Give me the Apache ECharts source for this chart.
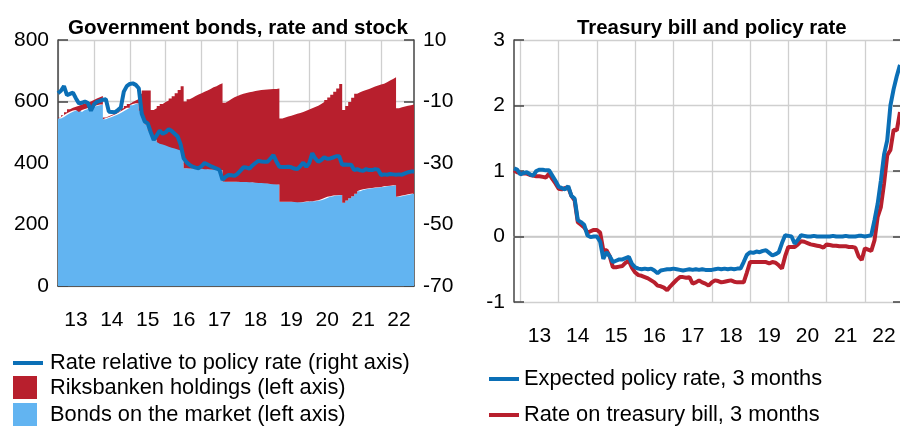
<!DOCTYPE html>
<html>
<head>
<meta charset="utf-8"/>
<style>
    html, body { margin:0; padding:0; background:#fff; }
    #chart { width:900px; height:426px; }
</style>
</head>
<body>
<div id="chart"></div>

<script src="https://cdn.jsdelivr.net/npm/echarts@6.0.0/dist/echarts.min.js"></script>
<script type="text/javascript">

// month categories: left chart Jan 2013 - Dec 2022, right chart Nov 2012 - Dec 2022
var bondMonths = [];
for (var y = 2013; y <= 2022; y++) {
    for (var m = 1; m <= 12; m++) bondMonths.push(y + '-' + (m < 10 ? '0' + m : m));
}
var billMonths = ['2012-11', '2012-12'].concat(bondMonths);

// Government bonds on the market, SEK billion (left axis)
var marketBonds = [
    545, 550, 556, 562, 567, 571, 572, 566, 572, 576, 579, 582,
    585, 588, 590, 542, 546, 550, 554, 558, 563, 568, 574, 580,
    588, 592, 594, 570, 550, 525, 505, 487, 476, 468, 463, 460,
    457, 453, 450, 447, 444, 441, 383, 383, 382, 382, 381, 381,
    381, 380, 380, 379, 378, 377, 377, 340, 339, 339, 339, 339,
    339, 338, 338, 338, 337, 337, 336, 335, 335, 334, 333, 332,
    331, 330, 274, 274, 274, 274, 274, 273, 272, 272, 273, 275,
    276, 276, 277, 279, 282, 286, 290, 292, 294, 295, 296, 271,
    278, 285, 292, 300, 308, 312, 315, 316, 318, 319, 320, 321,
    322, 324, 325, 326, 328, 290, 292, 294, 296, 298, 300, 301
];

// Riksbanken holdings, SEK billion (left axis)
var riksbankHoldings = [
    3, 5, 9, 13, 13, 12, 14, 24, 22, 21, 21, 23,
    25, 26, 28, 6, 6, 6, 6, 7, 7, 10, 11, 12,
    10, 11, 14, 55, 86, 111, 131, 85, 102, 117, 129, 138,
    146, 157, 167, 180, 193, 209, 217, 224, 230, 236, 242, 246,
    251, 256, 261, 267, 272, 278, 282, 256, 263, 269, 275, 279,
    283, 287, 290, 292, 295, 297, 300, 302, 303, 305, 307, 309,
    310, 312, 271, 274, 277, 280, 283, 287, 291, 294, 297, 299,
    302, 306, 309, 313, 316, 319, 323, 330, 338, 347, 361, 301,
    307, 313, 320, 325, 322, 322, 322, 325, 327, 330, 332, 334,
    336, 339, 343, 347, 351, 288, 289, 290, 290, 290, 290, 291
];

// rate relative to policy rate, basis points (right axis)
var rateVsPolicy = [
    -7.3, -6.5, -5.0, -7.9, -7.5, -7.1, -9.0, -10.6, -10.4, -10.0, -10.5, -13.0,
    -11.0, -10.1, -9.8, -9.4, -9.3, -13.3, -13.4, -13.5, -12.8, -12.0, -6.8, -5.0,
    -4.3, -4.1, -4.6, -5.7, -14.0, -16.5, -17.1, -20.0, -22.5, -21.0, -19.5, -20.5,
    -20.0, -19.0, -19.6, -20.5, -21.4, -24.0, -28.5, -29.8, -30.6, -31.2, -31.5, -31.7,
    -31.0, -30.0, -30.5, -31.0, -31.4, -31.8, -32.3, -35.5, -34.5, -33.9, -34.0, -34.2,
    -33.5, -32.5, -31.4, -31.5, -31.8, -30.8, -30.0, -29.3, -29.5, -29.6, -29.6, -28.6,
    -27.4, -29.5, -31.2, -31.3, -31.3, -31.2, -31.4, -31.8, -32.0, -31.0, -29.9, -31.2,
    -30.0, -26.8, -28.5, -29.6, -29.0, -28.1, -28.6, -28.5, -28.2, -27.8, -27.8, -30.6,
    -30.5, -30.6, -30.6, -32.3, -32.0, -32.4, -32.5, -32.0, -32.3, -32.3, -32.0, -32.2,
    -33.9, -33.7, -33.8, -33.6, -33.7, -33.8, -33.7, -33.8, -33.4, -33.0, -32.8, -32.8
];

// Expected policy rate, 3 months, per cent
var expectedPolicy = [
    1.04, 1.02,
    0.95, 0.97, 0.98, 0.95, 0.93, 1.00, 1.02, 1.02, 1.01, 1.01, 0.93, 0.85,
    0.76, 0.74, 0.72, 0.77, 0.62, 0.58, 0.25, 0.22, 0.18, 0.02, -0.01, 0.00,
    0.00, -0.08, -0.34, -0.24, -0.30, -0.39, -0.37, -0.35, -0.35, -0.33, -0.31, -0.42,
    -0.47, -0.49, -0.50, -0.49, -0.50, -0.49, -0.52, -0.56, -0.52, -0.51, -0.50, -0.50,
    -0.49, -0.50, -0.51, -0.52, -0.51, -0.50, -0.51, -0.50, -0.51, -0.50, -0.51, -0.51,
    -0.51, -0.50, -0.49, -0.50, -0.49, -0.50, -0.49, -0.50, -0.49, -0.49, -0.39, -0.28,
    -0.24, -0.25, -0.23, -0.24, -0.22, -0.21, -0.25, -0.29, -0.27, -0.24, -0.10, 0.02,
    0.01, 0.00, -0.11, -0.05, 0.02, 0.01, 0.00, 0.00, 0.01, 0.00, 0.00, 0.00,
    0.00, 0.00, 0.01, 0.00, 0.00, 0.00, 0.01, 0.00, 0.00, 0.00, 0.01, 0.01,
    0.00, 0.01, 0.02, 0.25, 0.50, 0.85, 1.25, 1.47, 2.00, 2.25, 2.45, 2.62
];

// Rate on treasury bill, 3 months, per cent
var treasuryBill = [
    1.01, 0.98,
    0.97, 0.96, 0.96, 0.94, 0.93, 0.92, 0.92, 0.91, 0.90, 0.96, 0.88, 0.81,
    0.73, 0.72, 0.74, 0.75, 0.62, 0.55, 0.22, 0.18, 0.14, 0.06, 0.08, 0.10,
    0.10, 0.06, -0.21, -0.21, -0.30, -0.47, -0.47, -0.46, -0.45, -0.40, -0.37, -0.48,
    -0.55, -0.59, -0.60, -0.62, -0.64, -0.67, -0.70, -0.75, -0.76, -0.78, -0.82, -0.76,
    -0.71, -0.66, -0.62, -0.62, -0.63, -0.62, -0.72, -0.70, -0.67, -0.70, -0.72, -0.75,
    -0.70, -0.67, -0.68, -0.70, -0.69, -0.68, -0.67, -0.69, -0.70, -0.70, -0.70, -0.55,
    -0.39, -0.39, -0.39, -0.39, -0.39, -0.39, -0.41, -0.39, -0.40, -0.44, -0.49, -0.30,
    -0.16, -0.16, -0.16, -0.12, -0.07, -0.08, -0.10, -0.12, -0.13, -0.14, -0.15, -0.17,
    -0.12, -0.13, -0.14, -0.14, -0.15, -0.15, -0.15, -0.16, -0.16, -0.17, -0.30, -0.36,
    -0.18, -0.20, -0.22, -0.06, 0.30, 0.45, 0.81, 1.24, 1.32, 1.63, 1.62, 1.90
];

var font = "'Liberation Sans', Arial, sans-serif";
var blue = '#0b6fb6';
var red = '#b81f2d';
var lightBlue = '#62b4f1';
var gridGray = '#cfcfcf';

function isJan(i, v) { return String(v).slice(5) === '01'; }
function isJul(i, v) { return String(v).slice(5) === '07'; }

function monthAxis(gridIndex, months, lineColor) {
    return {
        type: 'category', gridIndex: gridIndex, data: months, boundaryGap: false,
        axisLine: { show: true, lineStyle: { color: lineColor, width: 1.5 } },
        axisTick: { show: false },
        axisLabel: {
            interval: isJul, margin: 24, fontSize: 21, color: '#000', fontFamily: font,
            formatter: function (v) { return v.slice(2, 4); }
        },
        splitLine: { show: true, interval: isJan, lineStyle: { color: gridGray, width: 1.3 } }
    };
}

function valueAxis(gridIndex, min, max, step, pos, labels, tickLen, showLine) {
    return {
        type: 'value', gridIndex: gridIndex, min: min, max: max, interval: step, position: pos,
        axisLine: { show: showLine, lineStyle: { color: '#444', width: 1.5 } },
        axisTick: { show: true, inside: true, length: tickLen, lineStyle: { color: '#444', width: 1.5 } },
        axisLabel: { show: labels, margin: 9, fontSize: 21, color: '#000', fontFamily: font },
        splitLine: { show: pos === 'left', lineStyle: { color: gridGray, width: 1.3 } }
    };
}

function legendItem(name, left, top, w, h, gap) {
    return {
        data: [{ name: name, icon: 'rect' }], left: left, top: top, orient: 'vertical',
        itemWidth: w, itemHeight: h, selectedMode: false, padding: 0,
        textStyle: { fontSize: 21.8, color: '#000', fontFamily: font, padding: [0, 0, 0, gap] }
    };
}

var chart = echarts.init(document.getElementById('chart'));

var option = {
    animation: false,
    backgroundColor: '#fff',
    title: [
        { text: 'Government bonds, rate and stock', left: 63, top: 13,
          textStyle: { fontSize: 20.6, fontWeight: 'bold', color: '#000', fontFamily: font } },
        { text: 'Treasury bill and policy rate', left: 572, top: 13,
          textStyle: { fontSize: 20.4, fontWeight: 'bold', color: '#000', fontFamily: font } }
    ],
    legend: [
        legendItem('Rate relative to policy rate (right axis)', 13, 352, 30, 4, 2),
        legendItem('Riksbanken holdings (left axis)', 13, 376, 24, 23, 8),
        legendItem('Bonds on the market (left axis)', 13, 403, 24, 23, 8),
        legendItem('Expected policy rate, 3 months', 489, 368, 30, 4, 0),
        legendItem('Rate on treasury bill, 3 months', 489, 404, 30, 4, 0)
    ],
    grid: [
        { left: 58, top: 40, width: 356, height: 246 },
        { left: 514, top: 40, width: 386, height: 262 }
    ],
    xAxis: [
        monthAxis(0, bondMonths, '#333'),
        monthAxis(1, billMonths, '#c8c8c8')
    ],
    yAxis: [
        valueAxis(0, 0, 800, 200, 'left', true, 10, true),
        valueAxis(0, -70, 10, 20, 'right', true, 10, true),
        valueAxis(1, -1, 3, 1, 'left', true, 10, true),
        valueAxis(1, -1, 3, 1, 'right', false, 7, false)
    ],
    series: [
        {
            name: 'Bonds on the market (left axis)', type: 'line', xAxisIndex: 0, yAxisIndex: 0,
            stack: 'bonds', step: 'end', symbol: 'none', data: marketBonds,
            itemStyle: { color: lightBlue }, lineStyle: { width: 0 },
            areaStyle: { color: lightBlue, opacity: 1 }
        },
        {
            name: 'Riksbanken holdings (left axis)', type: 'line', xAxisIndex: 0, yAxisIndex: 0,
            stack: 'bonds', step: 'end', symbol: 'none', data: riksbankHoldings,
            itemStyle: { color: red }, lineStyle: { width: 0 },
            areaStyle: { color: red, opacity: 1 }
        },
        {
            name: 'Rate relative to policy rate (right axis)', type: 'line', xAxisIndex: 0, yAxisIndex: 1,
            symbol: 'none', data: rateVsPolicy,
            itemStyle: { color: blue }, lineStyle: { color: blue, width: 4 }
        },
        {
            name: 'Rate on treasury bill, 3 months', type: 'line', xAxisIndex: 1, yAxisIndex: 2,
            symbol: 'none', data: treasuryBill,
            itemStyle: { color: red }, lineStyle: { color: red, width: 4 }
        },
        {
            name: 'Expected policy rate, 3 months', type: 'line', xAxisIndex: 1, yAxisIndex: 2,
            symbol: 'none', data: expectedPolicy,
            itemStyle: { color: blue }, lineStyle: { color: blue, width: 4 }
        }
    ]
};

chart.setOption(option);
</script>
</body>
</html>
